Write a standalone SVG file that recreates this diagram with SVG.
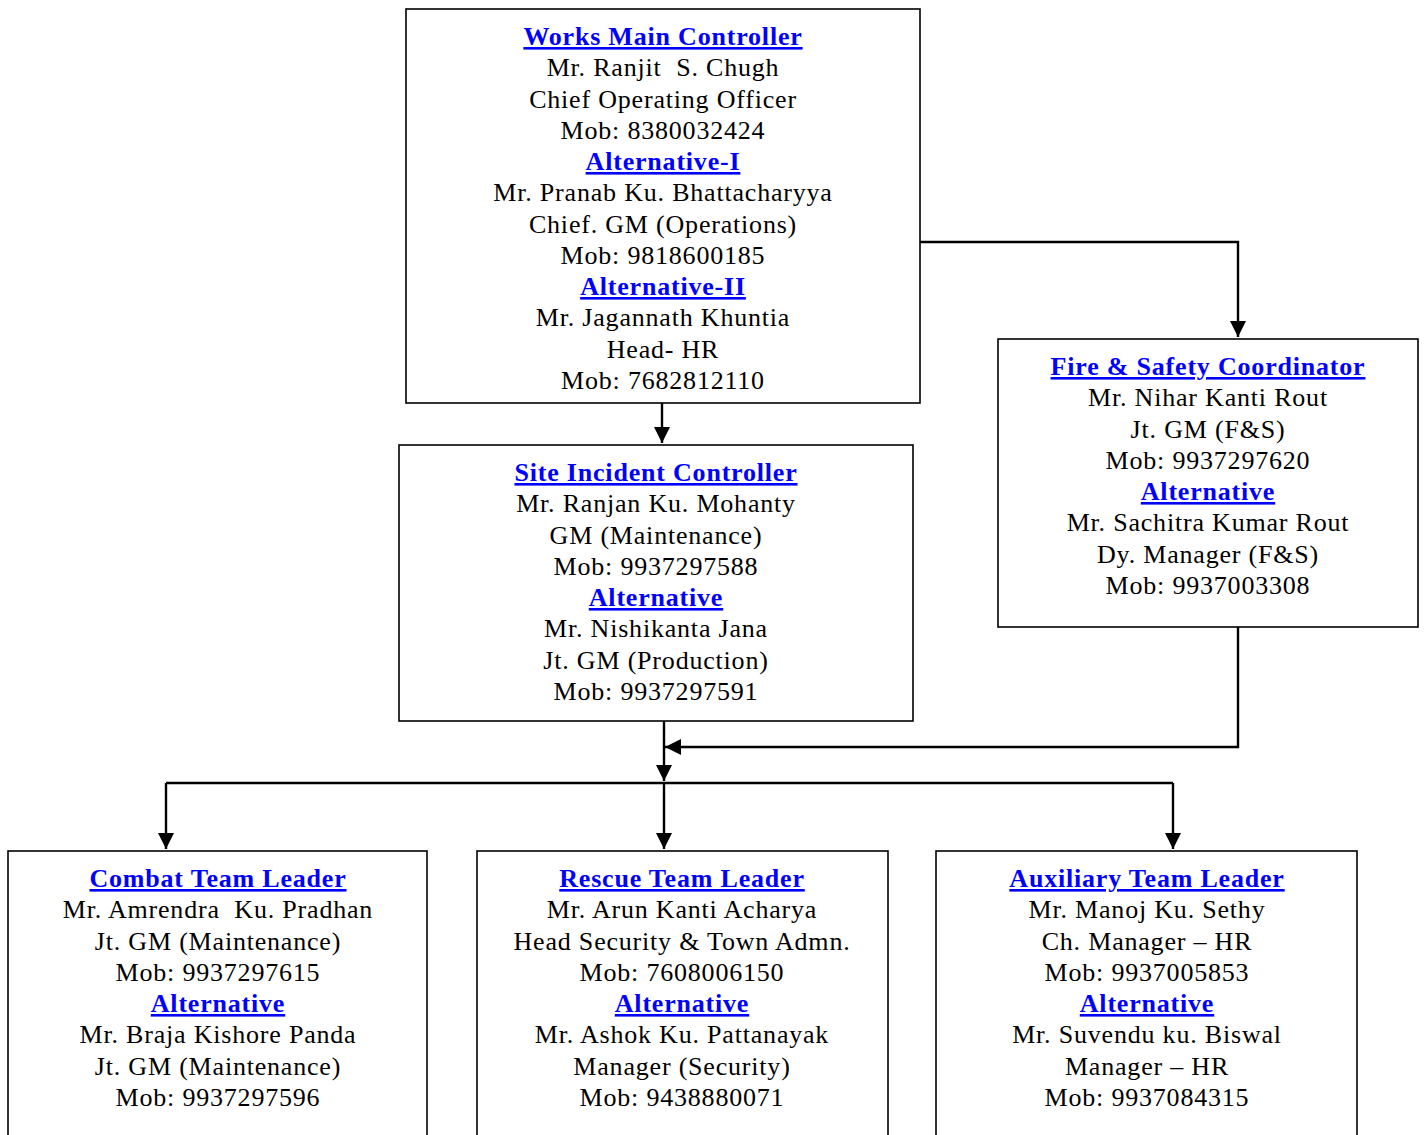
<svg xmlns="http://www.w3.org/2000/svg" width="1426" height="1135" viewBox="0 0 1426 1135">
<style>
.box{fill:#fff;stroke:#000;stroke-width:1.6}
text{font-family:"Liberation Serif","DejaVu Serif",serif;font-size:26px;letter-spacing:0.8px;fill:#000;text-anchor:middle;white-space:pre}
.t{font-weight:bold;fill:#0000ff;text-decoration:underline}
.c{fill:none;stroke:#000;stroke-width:2.4}
</style>
<defs>
<marker id="ah" markerUnits="userSpaceOnUse" markerWidth="16" markerHeight="18" refX="16" refY="8" orient="auto">
<path d="M0,0 L16,8 L0,16 Z" fill="#000"/>
</marker>
</defs>
<rect width="1426" height="1135" fill="#fff"/>
<g id="connectors">
<path class="c" d="M662,403 V443" marker-end="url(#ah)"/>
<path class="c" d="M920,242 H1238 V337" marker-end="url(#ah)"/>
<path class="c" d="M1238,627 V747 H665" marker-end="url(#ah)"/>
<path class="c" d="M664,721 V781" marker-end="url(#ah)"/>
<path class="c" d="M166,783 H1173"/>
<path class="c" d="M166,783 V849" marker-end="url(#ah)"/>
<path class="c" d="M664,783 V849" marker-end="url(#ah)"/>
<path class="c" d="M1173,783 V849" marker-end="url(#ah)"/>
</g>
<g id="works-main-controller">
<rect class="box" x="406" y="9" width="514" height="394"/>
<text x="663" y="45" class="t">Works Main Controller</text>
<text x="663" y="76">Mr. Ranjit  S. Chugh</text>
<text x="663" y="108">Chief Operating Officer</text>
<text x="663" y="139">Mob: 8380032424</text>
<text x="663" y="170" class="t">Alternative-I</text>
<text x="663" y="201">Mr. Pranab Ku. Bhattacharyya</text>
<text x="663" y="233">Chief. GM (Operations)</text>
<text x="663" y="264">Mob: 9818600185</text>
<text x="663" y="295" class="t">Alternative-II</text>
<text x="663" y="326">Mr. Jagannath Khuntia</text>
<text x="663" y="358">Head- HR</text>
<text x="663" y="389">Mob: 7682812110</text>
</g>
<g id="site-incident-controller">
<rect class="box" x="399" y="445" width="514" height="276"/>
<text x="656" y="481" class="t">Site Incident Controller</text>
<text x="656" y="512">Mr. Ranjan Ku. Mohanty</text>
<text x="656" y="544">GM (Maintenance)</text>
<text x="656" y="575">Mob: 9937297588</text>
<text x="656" y="606" class="t">Alternative</text>
<text x="656" y="637">Mr. Nishikanta Jana</text>
<text x="656" y="669">Jt. GM (Production)</text>
<text x="656" y="700">Mob: 9937297591</text>
</g>
<g id="fire-safety-coordinator">
<rect class="box" x="998" y="339" width="420" height="288"/>
<text x="1208" y="375" class="t">Fire &amp; Safety Coordinator</text>
<text x="1208" y="406">Mr. Nihar Kanti Rout</text>
<text x="1208" y="438">Jt. GM (F&amp;S)</text>
<text x="1208" y="469">Mob: 9937297620</text>
<text x="1208" y="500" class="t">Alternative</text>
<text x="1208" y="531">Mr. Sachitra Kumar Rout</text>
<text x="1208" y="563">Dy. Manager (F&amp;S)</text>
<text x="1208" y="594">Mob: 9937003308</text>
</g>
<g id="combat-team-leader">
<rect class="box" x="8" y="851" width="419" height="300"/>
<text x="218" y="887" class="t">Combat Team Leader</text>
<text x="218" y="918">Mr. Amrendra  Ku. Pradhan</text>
<text x="218" y="950">Jt. GM (Maintenance)</text>
<text x="218" y="981">Mob: 9937297615</text>
<text x="218" y="1012" class="t">Alternative</text>
<text x="218" y="1043">Mr. Braja Kishore Panda</text>
<text x="218" y="1075">Jt. GM (Maintenance)</text>
<text x="218" y="1106">Mob: 9937297596</text>
</g>
<g id="rescue-team-leader">
<rect class="box" x="477" y="851" width="411" height="300"/>
<text x="682" y="887" class="t">Rescue Team Leader</text>
<text x="682" y="918">Mr. Arun Kanti Acharya</text>
<text x="682" y="950">Head Security &amp; Town Admn.</text>
<text x="682" y="981">Mob: 7608006150</text>
<text x="682" y="1012" class="t">Alternative</text>
<text x="682" y="1043">Mr. Ashok Ku. Pattanayak</text>
<text x="682" y="1075">Manager (Security)</text>
<text x="682" y="1106">Mob: 9438880071</text>
</g>
<g id="auxiliary-team-leader">
<rect class="box" x="936" y="851" width="421" height="300"/>
<text x="1147" y="887" class="t">Auxiliary Team Leader</text>
<text x="1147" y="918">Mr. Manoj Ku. Sethy</text>
<text x="1147" y="950">Ch. Manager – HR</text>
<text x="1147" y="981">Mob: 9937005853</text>
<text x="1147" y="1012" class="t">Alternative</text>
<text x="1147" y="1043">Mr. Suvendu ku. Biswal</text>
<text x="1147" y="1075">Manager – HR</text>
<text x="1147" y="1106">Mob: 9937084315</text>
</g>
</svg>
